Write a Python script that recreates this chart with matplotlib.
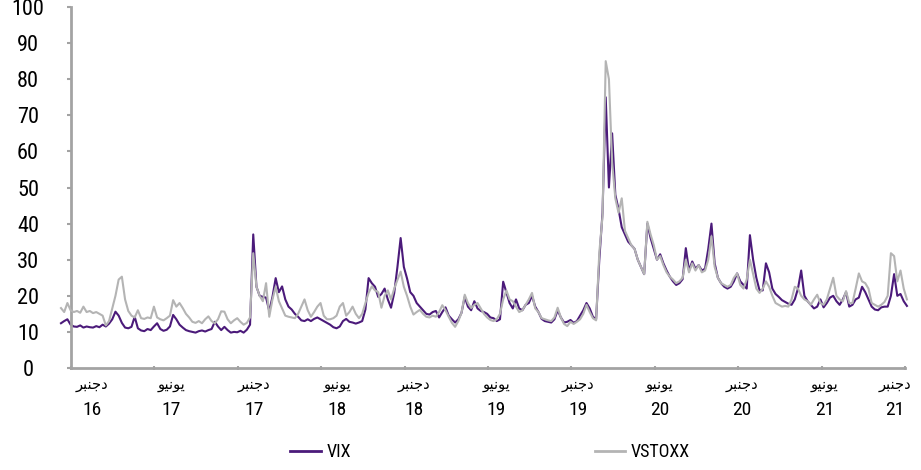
import numpy as np
import matplotlib
matplotlib.use("Agg")
import matplotlib.pyplot as plt
from matplotlib.lines import Line2D
import matplotlib.transforms as mtransforms

# ---------------- data (weekly readings, Nov 2016 - Dec 2021) ----------------
vix = [
    12.4, 13.0, 13.5, 12.0, 11.5, 11.4, 11.8, 11.2, 11.5, 11.3,
    11.2, 11.6, 11.3, 12.0, 11.5, 12.3, 13.5, 15.6, 14.5, 12.5,
    11.2, 11.0, 11.4, 14.2, 11.0, 10.4, 10.2, 10.8, 10.5, 11.5,
    12.4, 10.8, 10.3, 10.6, 11.5, 14.7, 13.5, 12.0, 11.2, 10.5,
    10.2, 10.0, 9.8, 10.2, 10.4, 10.1, 10.5, 10.8, 12.8, 11.5,
    10.5, 11.4, 10.5, 9.8, 10.0, 9.9, 10.3, 9.8, 10.6, 12.0,
    37.0, 22.5, 20.0, 19.7, 19.5, 15.8, 19.7, 24.9, 21.0, 22.6,
    19.0, 17.0, 16.2, 15.0, 14.2, 13.2, 13.0, 13.5, 13.0, 13.6,
    14.0, 13.5, 13.0, 12.5, 12.0, 11.3, 11.0, 11.5, 13.0, 13.6,
    12.8, 12.6, 12.3, 12.6, 13.0, 16.2, 24.9, 23.5, 22.5, 19.7,
    20.5, 22.0, 19.0, 16.7, 20.8, 28.0, 36.0, 28.0, 24.8, 21.0,
    20.0, 18.0, 17.0, 16.0, 15.0, 14.8, 15.5, 15.8, 14.0, 15.5,
    16.8, 14.5, 13.5, 12.6, 13.5, 15.3, 19.7, 17.0, 16.0, 18.5,
    16.5, 15.8, 15.5, 15.0, 14.0, 13.8, 13.0, 13.5, 23.9, 21.0,
    18.0, 16.5, 19.0, 16.5, 16.0, 17.5, 18.0, 20.0, 17.0, 15.5,
    13.6, 13.0, 12.8, 12.6, 13.5, 16.0, 14.0, 12.6, 12.8, 13.3,
    12.5, 13.0, 14.5, 16.0, 18.0, 16.5, 14.2, 13.5, 30.0, 43.0,
    75.0, 50.0, 65.0, 48.0, 44.0, 39.0, 37.0, 35.0, 34.0, 33.0,
    30.0, 28.0, 26.0, 40.0, 36.0, 33.0, 30.0, 31.5, 29.0, 27.0,
    25.3, 24.0, 23.0, 23.5, 24.6, 33.2, 27.0, 29.5, 27.5, 28.5,
    27.0, 27.5, 33.0, 40.0, 29.0, 25.0, 23.5, 22.5, 22.0, 22.5,
    24.0, 26.2, 24.0, 23.0, 22.0, 36.8, 30.0, 25.0, 21.5, 21.5,
    29.0, 26.5, 22.0, 20.5, 19.7, 18.8, 18.3, 17.8, 17.5, 19.0,
    22.0, 27.0, 20.0, 18.5, 17.5, 16.5, 17.0, 19.0, 16.8, 18.0,
    19.5, 20.0, 18.5, 17.5, 19.0, 21.0, 17.0, 17.5, 19.0, 19.5,
    22.5, 21.0, 19.0, 17.0, 16.2, 16.0, 16.8, 17.0, 17.0, 20.0,
    26.0, 20.0, 20.5, 18.5, 17.2,
]
vstoxx = [
    16.6, 15.5, 18.0, 16.0, 15.5, 15.8, 15.3, 17.0, 15.5, 15.8,
    15.2, 15.5, 15.0, 14.5, 11.8, 13.0, 16.5, 20.0, 24.5, 25.3,
    19.0, 15.8, 14.5, 14.0, 16.0, 13.8, 13.6, 14.0, 13.8, 17.0,
    14.0, 13.5, 13.2, 13.8, 14.5, 18.8, 17.0, 18.0, 16.6, 15.0,
    14.0, 12.8, 12.5, 13.0, 12.4, 13.5, 14.3, 13.0, 12.4, 13.5,
    15.7, 15.6, 13.5, 12.4, 13.2, 13.8, 12.8, 12.0, 12.5, 14.0,
    31.8, 22.5, 20.0, 18.5, 23.5, 14.2, 19.0, 22.5, 18.5, 16.5,
    14.5, 14.2, 14.0, 13.8, 15.0, 17.0, 19.0, 16.0, 14.2, 15.5,
    17.0, 18.0, 14.5, 13.5, 13.5, 13.8, 14.5, 17.0, 18.0, 14.5,
    15.5, 17.0, 15.0, 13.8, 15.0, 18.0, 20.8, 22.6, 21.5, 21.0,
    16.7, 20.0, 21.5, 19.0, 22.0, 24.4, 26.7, 22.5, 20.0, 17.0,
    14.8, 15.5, 16.1, 15.0, 14.2, 14.0, 14.5, 14.2, 15.5, 17.4,
    16.0, 14.2, 12.5, 11.4, 13.0, 15.3, 20.3, 18.0, 16.6, 17.5,
    18.0, 16.5, 15.0, 14.0, 13.3, 13.0, 13.5, 15.0, 19.0, 21.5,
    19.0, 18.5, 17.0, 15.5, 16.0, 17.5, 19.0, 20.8, 16.5, 15.5,
    13.8, 13.5, 13.2, 13.0, 14.0, 16.7, 14.0, 12.2, 11.6, 12.8,
    12.2, 12.8, 13.5, 15.0, 17.5, 15.5, 13.8, 13.2, 32.0, 42.0,
    85.0, 80.0, 57.0, 47.0, 43.0, 47.0, 38.0, 36.0, 34.0, 33.0,
    30.0, 28.0, 26.0, 40.5, 37.0, 34.0, 30.0, 31.0, 28.5, 26.5,
    25.3, 24.5, 23.5, 24.0, 25.0, 30.0, 26.5, 29.0, 27.0, 28.5,
    26.5, 27.0, 30.0, 36.5, 28.0, 25.0, 23.5, 23.0, 22.5, 23.0,
    25.0, 26.2, 23.0, 22.0, 24.5, 30.0, 26.0, 22.0, 20.8, 22.0,
    24.0, 22.5, 20.0, 18.0, 17.5, 17.0, 17.2, 17.0, 19.0, 22.5,
    22.0, 20.0, 19.0, 18.5, 17.5, 19.0, 20.3, 18.0, 17.5, 19.0,
    22.0, 25.0, 20.0, 19.0, 18.5, 21.3, 18.0, 18.0, 22.0, 26.2,
    24.0, 23.5, 22.0, 18.0, 17.5, 17.0, 17.5, 18.3, 20.0, 31.8,
    31.0, 24.0, 27.0, 22.0, 19.0,
]
weeks = np.arange(len(vix))

month_names = ["دجنبر", "يونيو", "دجنبر", "يونيو", "دجنبر", "يونيو",
               "دجنبر", "يونيو", "دجنبر", "يونيو", "دجنبر"]
year_labels = ["16", "17", "17", "18", "18", "19", "19", "20", "20", "21", "21"]
series_names = ["VIX", "VSTOXX"]
y_ticks = list(range(0, 101, 10))

# ---------------- simple Arabic shaping (presentation forms + visual order) ----
_FORMS = {  # isolated, final, initial, medial
    'د': ('\uFEA9', '\uFEAA', None, None),
    'ر': ('\uFEAD', '\uFEAE', None, None),
    'و': ('\uFEED', '\uFEEE', None, None),
    'ج': ('\uFE9D', '\uFE9E', '\uFE9F', '\uFEA0'),
    'ن': ('\uFEE5', '\uFEE6', '\uFEE7', '\uFEE8'),
    'ب': ('\uFE8F', '\uFE90', '\uFE91', '\uFE92'),
    'ي': ('\uFEF1', '\uFEF2', '\uFEF3', '\uFEF4'),
}


def shape_ar(word):
    out = []
    n = len(word)
    for i, c in enumerate(word):
        f = _FORMS.get(c)
        if f is None:
            out.append(c)
            continue
        prev_dual = i > 0 and _FORMS.get(word[i - 1], (0, 0, None))[2] is not None
        next_ok = i < n - 1 and word[i + 1] in _FORMS and f[2] is not None
        if prev_dual and next_ok:
            out.append(f[3])
        elif prev_dual:
            out.append(f[1])
        elif next_ok:
            out.append(f[2])
        else:
            out.append(f[0])
    return ''.join(reversed(out))


# ---------------- figure ----------------
FONT = ['Liberation Sans Narrow', 'Roboto Condensed', 'Open Sans Condensed',
        'Noto Sans Condensed', 'Liberation Sans', 'DejaVu Sans']
plt.rcParams['font.family'] = FONT

fig = plt.figure(figsize=(9.21, 4.70), dpi=100)
ax = fig.add_axes([71 / 921, 1 - 368 / 470, (905 - 71) / 921, (368 - 7) / 470])

purple = '#4b1a7a'
grey = '#b4b4b4'
ax.plot(weeks, vix, color=purple, lw=1.5, clip_on=False, zorder=2)
ax.plot(weeks, vstoxx, color=grey, lw=1.5, clip_on=False, zorder=3)

# axes layout
x0, x1 = 3.125, 263.4
ax.set_xlim(x0, x1)
ax.set_ylim(0, 100)
ax.set_xticks(np.linspace(x0, x1, 11))
ax.set_xticklabels([])
ax.set_yticks(y_ticks)
ax.set_yticklabels([str(v) for v in y_ticks], fontsize=16)
for lab in ax.get_yticklabels():
    lab.set_horizontalalignment('center')

spine_col = '#a3a3a3'
for s in ['top', 'right']:
    ax.spines[s].set_visible(False)
for s in ['left', 'bottom']:
    ax.spines[s].set_color(spine_col)
    ax.spines[s].set_linewidth(2)
ax.tick_params(axis='y', length=3, width=1.5, color=spine_col, pad=28)
ax.tick_params(axis='x', length=3, width=1.5, color=spine_col, direction='inout')

# category labels (Arabic month, year below)
label_pos = [9.7, 34.4, 60.3, 86.25, 110.3, 135.9, 161.25, 186.9, 212.5, 238.4, 260.3]
trans = mtransforms.blended_transform_factory(ax.transData, fig.transFigure)
for xp, m, yr in zip(label_pos, month_names, year_labels):
    ax.text(xp, 1 - 385 / 470, shape_ar(m), transform=trans, ha='center', va='center',
            fontsize=10.5, family=['DejaVu Sans'], clip_on=False)
    ax.text(xp, 1 - 410 / 470, yr, transform=trans, ha='center', va='center',
            fontsize=14, clip_on=False)

handles = [Line2D([], [], color=purple, lw=2), Line2D([], [], color=grey, lw=2)]
fig.legend(handles, series_names, loc='center', bbox_to_anchor=(490 / 921, 1 - 452 / 470),
           ncol=2, frameon=False, fontsize=13, handlelength=1.7, handletextpad=0.3,
           columnspacing=13.5)

fig.savefig('out.png', dpi=100)
